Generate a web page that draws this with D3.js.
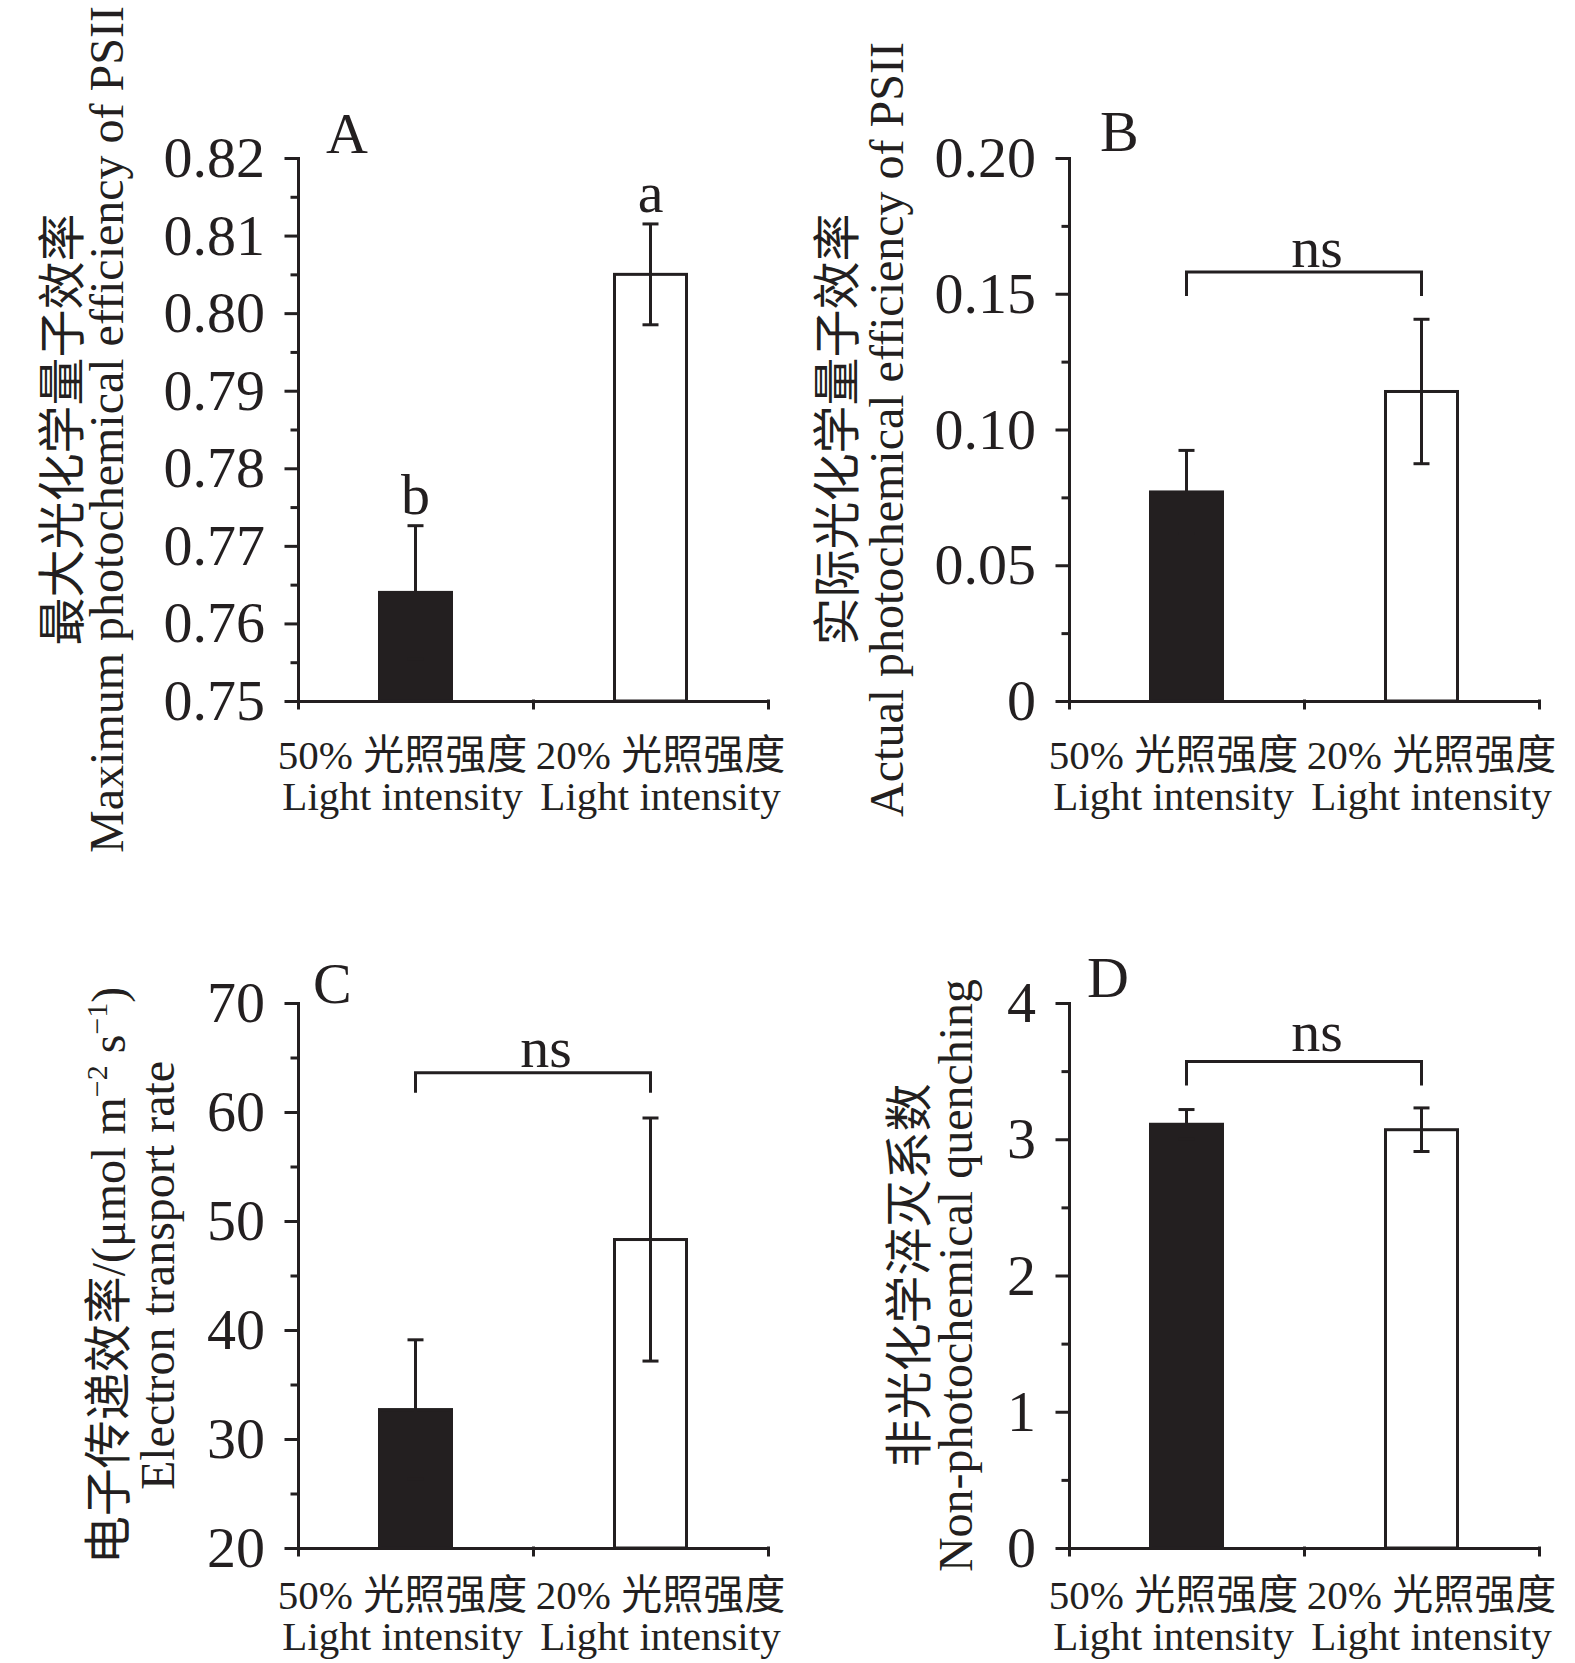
<!DOCTYPE html>
<html>
<head>
<meta charset="utf-8">
<script src="https://cdn.jsdelivr.net/npm/d3@7"></script>
<style>
body { margin: 0; background: #fff; }
</style>
</head>
<body>
<svg id="chart" width="1575" height="1663"></svg>
<script>
// categories (two lines each)
var categories = ["50% 光照强度", "20% 光照强度"];
var categoriesEn = ["Light intensity", "Light intensity"];

// A: maximum photochemical efficiency of PSII
var fvfmMean = [0.764, 0.805];
var fvfmSd = [0.0086, 0.0065];
var fvfmLetters = ["b", "a"];
var fvfmTicks = [0.75, 0.76, 0.77, 0.78, 0.79, 0.80, 0.81, 0.82];
var fvfmTickLabels = ["0.75", "0.76", "0.77", "0.78", "0.79", "0.80", "0.81", "0.82"];

// B: actual photochemical efficiency of PSII
var phiMean = [0.077, 0.114];
var phiSd = [0.0153, 0.0266];
var phiTicks = [0, 0.05, 0.10, 0.15, 0.20];
var phiTickLabels = ["0", "0.05", "0.10", "0.15", "0.20"];
var phiBracket = 0.158;

// C: electron transport rate
var etrMean = [32.7, 48.3];
var etrSd = [6.4, 11.15];
var etrTicks = [20, 30, 40, 50, 60, 70];
var etrTickLabels = ["20", "30", "40", "50", "60", "70"];
var etrBracket = 63.6;

// D: non-photochemical quenching
var npqMean = [3.11, 3.07];
var npqSd = [0.108, 0.16];
var npqTicks = [0, 1, 2, 3, 4];
var npqTickLabels = ["0", "1", "2", "3", "4"];
var npqBracket = 3.57;

var FONT = "'Liberation Serif','Times New Roman','Noto Sans CJK SC',serif";
var INK = "#231f20";
var plotW = 470;

var svg = d3.select("#chart");
svg.append("rect").attr("width", 1575).attr("height", 1663).attr("fill", "#fff");

var panels = [
    {
        letter: "A", x: 298, top: 158, bottom: 701, letterX: 28, letterY: 152.6,
        domain: [0.75, 0.82], ticks: fvfmTicks, tickLabels: fvfmTickLabels,
        mean: fvfmMean, sd: fvfmSd, letters: fvfmLetters,
        title: [[{t: "最大光化学量子效率"}], [{t: "Maximum photochemical efficiency of PSII"}]],
        titleX: [-219, -175], catY: [68, 109]
    },
    {
        letter: "B", x: 1069, top: 158, bottom: 701, letterX: 31, letterY: 151,
        domain: [0, 0.20], ticks: phiTicks, tickLabels: phiTickLabels,
        mean: phiMean, sd: phiSd, bracket: phiBracket, drop: 24, nsGap: 5,
        title: [[{t: "实际光化学量子效率"}], [{t: "Actual photochemical efficiency of PSII"}]],
        titleX: [-215, -166], catY: [68, 109]
    },
    {
        letter: "C", x: 298, top: 1003, bottom: 1548, letterX: 15, letterY: 1003.3,
        domain: [20, 70], ticks: etrTicks, tickLabels: etrTickLabels,
        mean: etrMean, sd: etrSd, bracket: etrBracket, drop: 20, nsGap: 6,
        title: [[{t: "电子传递效率/(μmol m"}, {t: "−2", sup: true}, {t: " s"}, {t: "−1", sup: true}, {t: ")"}],
                [{t: "Electron transport rate"}]],
        titleX: [-173, -124], catY: [61, 102]
    },
    {
        letter: "D", x: 1069, top: 1003, bottom: 1548, letterX: 18, letterY: 996.7,
        domain: [0, 4], ticks: npqTicks, tickLabels: npqTickLabels,
        mean: npqMean, sd: npqSd, bracket: npqBracket, drop: 24, nsGap: 11,
        title: [[{t: "非光化学淬灭系数"}], [{t: "Non-photochemical quenching"}]],
        titleX: [-143.5, -97], catY: [61, 102]
    }
];

panels.forEach(drawPanel);

function drawPanel(p) {
    var h = p.bottom - p.top;
    var g = svg.append("g").attr("transform", "translate(" + p.x + "," + p.top + ")");

    var y = d3.scaleLinear().domain(p.domain).range([h, 0]);
    var x = d3.scaleBand().domain(categories).range([0, plotW])
        .paddingInner(0.6936).paddingOuter(0.3468);
    var bw = x.bandwidth();
    var cx = function (i) { return x(categories[i]) + bw / 2; };

    // bars
    g.selectAll("rect.bar").data(p.mean).join("rect")
        .attr("class", "bar")
        .attr("x", function (d, i) { return x(categories[i]); })
        .attr("y", function (d) { return y(d); })
        .attr("width", bw)
        .attr("height", function (d) { return h - y(d); })
        .attr("fill", function (d, i) { return i === 0 ? INK : "#fff"; })
        .attr("stroke", INK)
        .attr("stroke-width", 3);

    // error bars
    var eb = g.selectAll("g.err").data(p.mean).join("g").attr("class", "err")
        .attr("stroke", INK).attr("stroke-width", 3);
    eb.append("line")
        .attr("x1", function (d, i) { return cx(i); })
        .attr("x2", function (d, i) { return cx(i); })
        .attr("y1", function (d, i) { return y(d - p.sd[i]); })
        .attr("y2", function (d, i) { return y(d + p.sd[i]); });
    [1, -1].forEach(function (s) {
        eb.append("line")
            .attr("x1", function (d, i) { return cx(i) - 8; })
            .attr("x2", function (d, i) { return cx(i) + 8; })
            .attr("y1", function (d, i) { return y(d + s * p.sd[i]); })
            .attr("y2", function (d, i) { return y(d + s * p.sd[i]); });
    });

    // significance letters
    if (p.letters) {
        g.selectAll("text.sig").data(p.letters).join("text")
            .attr("class", "sig")
            .attr("x", function (d, i) { return cx(i); })
            .attr("y", function (d, i) { return y(p.mean[i] + p.sd[i]) - 12; })
            .attr("text-anchor", "middle")
            .attr("font-family", FONT).attr("font-size", 58).attr("fill", INK)
            .text(function (d) { return d; });
    }

    // ns bracket
    if (p.bracket != null) {
        var yb = y(p.bracket);
        g.append("path")
            .attr("d", "M" + cx(0) + "," + (yb + p.drop) + "V" + yb + "H" + cx(1) + "V" + (yb + p.drop))
            .attr("fill", "none").attr("stroke", INK).attr("stroke-width", 3);
        g.append("text")
            .attr("x", (cx(0) + cx(1)) / 2 + 13)
            .attr("y", yb - p.nsGap)
            .attr("text-anchor", "middle")
            .attr("font-family", FONT).attr("font-size", 58).attr("fill", INK)
            .text("ns");
    }

    // y axis, major and minor ticks
    var ya = g.append("g")
        .call(d3.axisLeft(y).tickValues(p.ticks)
            .tickFormat(function (d, i) { return p.tickLabels[i]; })
            .tickSize(12).tickSizeOuter(0).tickPadding(21));
    var minor = d3.pairs(p.ticks).map(function (d) { return (d[0] + d[1]) / 2; });
    var ym = g.append("g")
        .call(d3.axisLeft(y).tickValues(minor).tickSize(6).tickFormat(""));
    ym.select(".domain").remove();

    // x axis, ticks at band edges
    var xt = d3.scaleLinear().domain([0, categories.length]).range([0, plotW]);
    var xa = g.append("g").attr("transform", "translate(0," + h + ")")
        .call(d3.axisBottom(xt).tickValues(d3.range(categories.length + 1))
            .tickSize(7).tickSizeOuter(0).tickFormat(""));

    [ya, ym, xa].forEach(function (a) {
        a.selectAll("path, line").attr("stroke", INK).attr("stroke-width", 3)
            .attr("stroke-linecap", "square");
    });
    ya.selectAll("text").attr("font-family", FONT).attr("font-size", 58).attr("fill", INK);

    // category labels
    var labelDx = [-13, 10];
    categories.forEach(function (c, i) {
        var t = g.append("text")
            .attr("text-anchor", "middle")
            .attr("font-family", FONT).attr("font-size", 41).attr("fill", INK);
        t.append("tspan").attr("x", cx(i) + labelDx[i]).attr("y", h + p.catY[0]).text(c);
        t.append("tspan").attr("x", cx(i) + labelDx[i]).attr("y", h + p.catY[1]).text(categoriesEn[i]);
    });

    // panel letter
    g.append("text")
        .attr("x", p.letterX).attr("y", p.letterY - p.top)
        .attr("font-family", FONT).attr("font-size", 58).attr("fill", INK)
        .text(p.letter);

    // y title, two rotated lines
    p.title.forEach(function (segs, li) {
        var t = g.append("text")
            .attr("transform", "translate(" + p.titleX[li] + "," + (h / 2) + ") rotate(-90)")
            .attr("text-anchor", "middle")
            .attr("font-family", FONT).attr("font-size", 48).attr("fill", INK);
        var shift = 0;
        segs.forEach(function (s) {
            var sp = t.append("tspan").text(s.t);
            if (s.sup) {
                sp.attr("font-size", 30).attr("dy", -18);
                shift = 18;
            } else if (shift) {
                sp.attr("dy", shift);
                shift = 0;
            }
        });
    });
}
</script>
</body>
</html>
